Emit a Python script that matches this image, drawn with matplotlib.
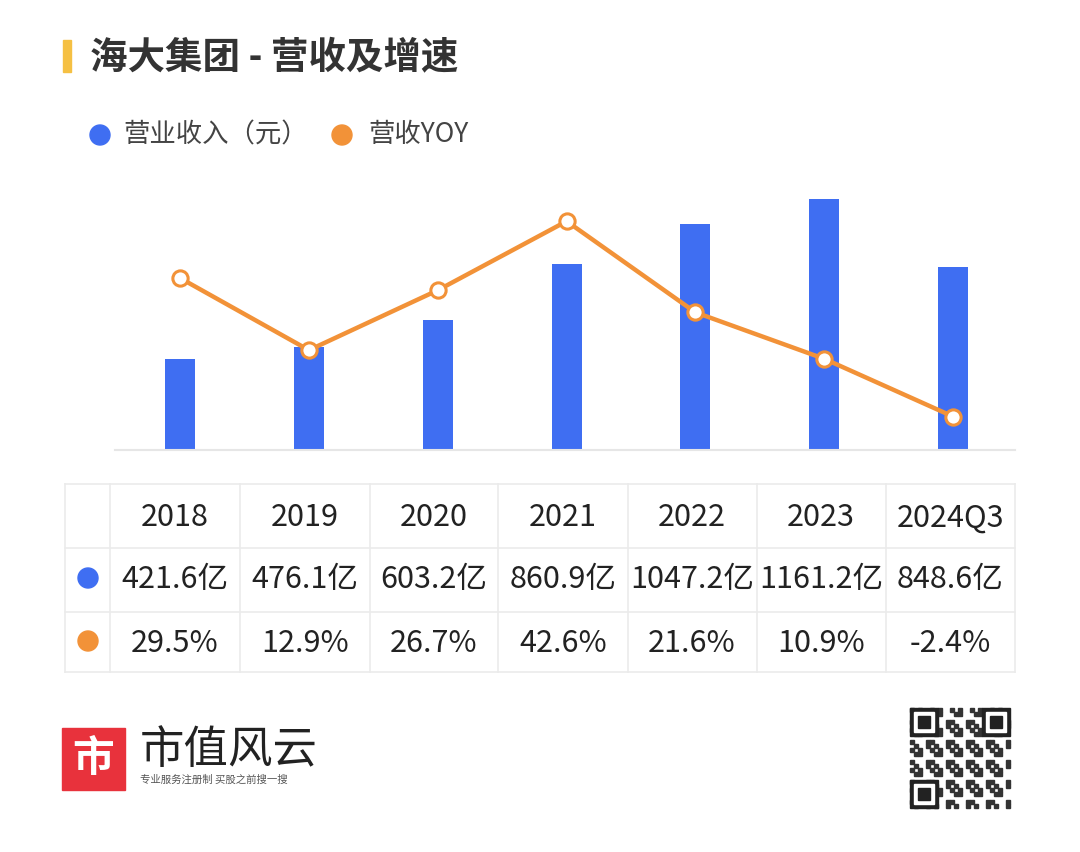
import matplotlib
matplotlib.use("Agg")
import matplotlib.pyplot as plt
from matplotlib.patches import Rectangle, Ellipse

plt.rcParams['font.family'] = ['Noto Sans CJK SC', 'DejaVu Sans']

years = ['2018', '2019', '2020', '2021', '2022', '2023', '2024Q3']
revenue = [421.6, 476.1, 603.2, 860.9, 1047.2, 1161.2, 848.6]
yoy = [29.5, 12.9, 26.7, 42.6, 21.6, 10.9, -2.4]
rev_labels = ['421.6亿', '476.1亿', '603.2亿', '860.9亿', '1047.2亿', '1161.2亿', '848.6亿']
yoy_labels = ['29.5%', '12.9%', '26.7%', '42.6%', '21.6%', '10.9%', '-2.4%']

BLUE = '#3F6EF2'
ORANGE = '#F29238'
W, H = 1080, 852
fig = plt.figure(figsize=(W/100, H/100), dpi=100)
fig.patch.set_facecolor('white')

def fx(x): return x / W
def fy(y): return 1 - y / H

def dot(cx, cy, r, color):
    fig.patches.append(Ellipse((fx(cx), fy(cy)), 2 * r / W, 2 * r / H, transform=fig.transFigure, color=color))

ax = fig.add_axes([fx(115), fy(450), fx(1015) - fx(115), 280 / H])
x = list(range(len(years)))
ax.bar(x, revenue, width=0.233, color=BLUE, zorder=2)
ax.set_xlim(-0.505, 6.48)
ax.set_ylim(0, 1295)
for s in ['top', 'right', 'left']:
    ax.spines[s].set_visible(False)
ax.spines['bottom'].set_color('#E6E6E6')
ax.spines['bottom'].set_linewidth(1.5)
ax.set_xticks([]); ax.set_yticks([])
ax2 = ax.twinx()
ax2.plot(x, yoy, color=ORANGE, lw=3.2, marker='o', ms=11, mfc='white', mec=ORANGE, mew=2.2, zorder=3)
ax2.set_ylim(-10.1, 54.4)
ax2.axis('off')

# title
fig.patches.append(Rectangle((fx(63), fy(72)), fx(8), 32 / H, transform=fig.transFigure, color='#F5C043'))
fig.text(fx(90), fy(57), '海大集团 - 营收及增速', fontsize=27, fontweight='bold', color='#333333', va='center')
# legend
dot(100, 135, 10, BLUE)
fig.text(fx(123), fy(135), '营业收入（元）', fontsize=19, color='#444444', va='center')
dot(342, 135, 10, ORANGE)
fig.text(fx(368), fy(135), '营收YOY', fontsize=19, color='#444444', va='center')

# table
grid = '#EBEBEB'
rows_y = [484, 548, 612, 672]
cols_x = [65, 110, 240, 370, 498, 628, 757, 886, 1015]
for yv in rows_y:
    fig.add_artist(plt.Line2D([fx(65), fx(1015)], [fy(yv), fy(yv)], color=grid, lw=1.2))
for xv in cols_x:
    fig.add_artist(plt.Line2D([fx(xv), fx(xv)], [fy(484), fy(672)], color=grid, lw=1.2))
centers = [175, 305, 434, 563, 692, 821, 950]
for i, c in enumerate(centers):
    fig.text(fx(c), fy(518), years[i], fontsize=22, ha='center', va='center', color='#222222')
    fig.text(fx(c), fy(580), rev_labels[i], fontsize=22, ha='center', va='center', color='#222222')
    fig.text(fx(c), fy(644), yoy_labels[i], fontsize=22, ha='center', va='center', color='#222222')
dot(88, 578, 10, BLUE)
dot(88, 641, 10, ORANGE)

# logo
fig.patches.append(Rectangle((fx(62), fy(790)), fx(63), 62 / H, transform=fig.transFigure, color='#E8323C'))
fig.text(fx(93), fy(759), '市', fontsize=30, color='white', ha='center', va='center', fontweight='bold')
fig.text(fx(140), fy(750), '市值风云', fontsize=32, color='#222222', va='center')
fig.text(fx(140), fy(780), '专业服务注册制 买股之前搜一搜', fontsize=7.5, color='#555555', va='center')

# QR-like decoration
qx, qy, qs = 910, 708, 100
n = 25
cell = qs / n
for i in range(n):
    for j in range(n):
        if ((i * 7 + j * 13 + i * j) % 5) < 2:
            fig.patches.append(Rectangle((fx(qx + j * cell), fy(qy + (i + 1) * cell)), fx(cell), cell / H,
                                         transform=fig.transFigure, color='#333333'))
for (ox, oy) in [(0, 0), (qs - 7 * cell, 0), (0, qs - 7 * cell)]:
    for k, col in [(7, '#222222'), (5, 'white'), (3, '#222222')]:
        off = (7 - k) / 2 * cell
        fig.patches.append(Rectangle((fx(qx + ox + off), fy(qy + oy + off + k * cell)), fx(k * cell), k * cell / H,
                                     transform=fig.transFigure, color=col))

fig.savefig('out.png', dpi=100)
